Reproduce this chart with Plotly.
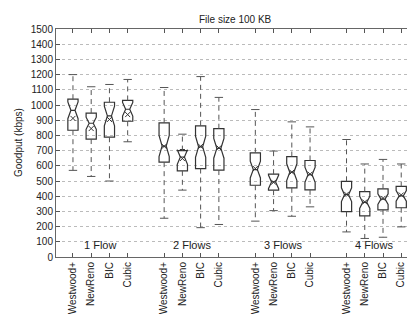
import plotly.graph_objects as go

protocols = ["Westwood+", "NewReno", "BIC", "Cubic"]
groups = ["1 Flow", "2 Flows", "3 Flows", "4 Flows"]

# values per box, ordered group by group (4 protocols each)
upper = [1200, 1120, 1135, 1168,  1115, 808, 1187, 1050,  970, 697, 889, 856,  773, 612, 642, 612]
q3 =    [1038, 947, 1018, 1030,   882, 700, 863, 844,     685, 545, 661, 635,  498, 430, 448, 464]
median = [965, 880, 928, 972,     730, 658, 725, 715,     575, 494, 558, 541,  410, 360, 381, 402]
mean =  [912, 845, 905, 937,      728, 648, 728, 718,     582, 492, 558, 545,  413, 362, 386, 408]
q1 =    [834, 776, 788, 893,      624, 567, 582, 572,     472, 440, 455, 442,  298, 270, 310, 324]
lower = [570, 530, 500, 758,      255, 440, 193, 214,     236, 305, 268, 330,  165, 122, 130, 198]
notch = [55, 40, 65, 45,          70, 48, 70, 65,         55, 45, 55, 50,      45, 40, 35, 35]

pos = [g * 5 + i + 1 for g in range(len(groups)) for i in range(len(protocols))]
labels = [p for g in groups for p in protocols]
centers = [g * 5 + 2.5 for g in range(len(groups))]

LINE = "#333333"
fig = go.Figure()

fig.add_trace(go.Box(
    x=pos, q1=q1, median=median, q3=q3,
    lowerfence=q1, upperfence=q3,
    notched=True, notchspan=notch, notchwidth=0.3,
    width=0.56, fillcolor="rgba(0,0,0,0)",
    line=dict(color=LINE, width=1.2),
    boxpoints=False, hoverinfo="skip", showlegend=False,
))

wx, wy = [], []
for p, a, b, c, d in zip(pos, q3, upper, q1, lower):
    wx += [p, p, None, p, p, None]
    wy += [a, b, None, c, d, None]
fig.add_trace(go.Scatter(x=wx, y=wy, mode="lines",
                         line=dict(color="#555555", width=1, dash="5px,4px"),
                         showlegend=False, hoverinfo="skip"))
fig.add_trace(go.Scatter(x=pos + pos, y=upper + lower, mode="markers",
                         marker=dict(symbol="line-ew", size=6,
                                     line=dict(color="#555555", width=1)),
                         showlegend=False, hoverinfo="skip"))
fig.add_trace(go.Scatter(x=pos, y=mean, mode="markers",
                         marker=dict(symbol="x-thin", size=5,
                                     line=dict(color="#333333", width=1)),
                         showlegend=False, hoverinfo="skip"))

for c, g in zip(centers, groups):
    fig.add_annotation(x=c, y=80, text=g, showarrow=False,
                       font=dict(size=11, color="#222"), yanchor="middle")

fig.add_annotation(xref="paper", yref="paper", x=-0.106, y=0.5,
                   text="Goodput (kbps)", textangle=-90, showarrow=False,
                   xanchor="center", yanchor="middle",
                   font=dict(size=10, color="#222"))

fig.add_annotation(xref="paper", yref="paper", x=0.5, y=1.043,
                   text="File size 100 KB", showarrow=False,
                   xanchor="center", yanchor="middle",
                   font=dict(size=10, color="#222"))

fig.update_layout(
    width=415, height=314,
    margin=dict(l=48, r=8, t=21, b=60),
    paper_bgcolor="white", plot_bgcolor="white",
    font=dict(family="Liberation Sans, Arial, sans-serif", size=10, color="#222"),
)
fig.update_xaxes(
    range=[0.07, 19.7], tickmode="array", tickvals=pos, ticktext=labels,
    tickangle=-90, ticks="inside", ticklen=4, tickcolor="#555",
    showline=True, linecolor="#666", linewidth=1, mirror="allticks",
    showgrid=False, zeroline=False,
)
fig.update_yaxes(
    range=[0, 1500], dtick=100, ticks="inside", ticklen=4, tickcolor="#555",
    showline=True, linecolor="#666", linewidth=1, mirror="allticks",
    showgrid=True, gridcolor="#bbbbbb", griddash="dot", gridwidth=1,
    zeroline=False,
)

fig.write_html("out.html")
